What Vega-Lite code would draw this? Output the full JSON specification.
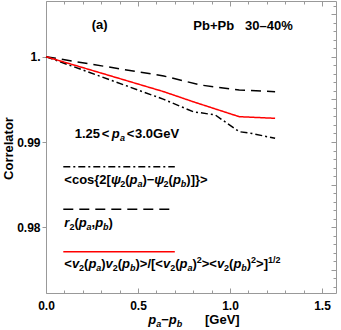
{
  "$schema": "https://vega.github.io/schema/vega-lite/v6.json",
  "width": 290,
  "height": 292,
  "autosize": "none",
  "padding": {"left": 46, "top": 1, "right": 5, "bottom": 37},
  "config": {
    "view": {"stroke": "#999999", "strokeWidth": 1},
    "font": "Liberation Sans",
    "axis": {
      "grid": false,
      "domain": false,
      "tickColor": "#999999",
      "labelFont": "Liberation Sans",
      "labelFontWeight": "bold",
      "labelFontSize": 12,
      "labelColor": "black",
      "titleFont": "Liberation Sans",
      "titleFontWeight": "bold",
      "titleFontSize": 13,
      "titleColor": "black"
    }
  },
  "datasets": {
    "lines": [
      {"s": "psi", "g": "psi-curve", "x": 0, "y": 1.0},
      {"s": "psi", "g": "psi-curve", "x": 0.3, "y": 0.99766},
      {"s": "psi", "g": "psi-curve", "x": 0.64, "y": 0.995},
      {"s": "psi", "g": "psi-curve", "x": 0.8, "y": 0.99355},
      {"s": "psi", "g": "psi-curve", "x": 0.92, "y": 0.99317},
      {"s": "psi", "g": "psi-curve", "x": 1.05, "y": 0.99121},
      {"s": "psi", "g": "psi-curve", "x": 1.12, "y": 0.9910},
      {"s": "psi", "g": "psi-curve", "x": 1.245, "y": 0.99043},
      {"s": "r2", "g": "r2-curve", "x": 0, "y": 1.0},
      {"s": "r2", "g": "r2-curve", "x": 0.42, "y": 0.99851},
      {"s": "r2", "g": "r2-curve", "x": 0.64, "y": 0.99774},
      {"s": "r2", "g": "r2-curve", "x": 0.84, "y": 0.99668},
      {"s": "r2", "g": "r2-curve", "x": 1.05, "y": 0.9961},
      {"s": "r2", "g": "r2-curve", "x": 1.245, "y": 0.9959},
      {"s": "v2", "g": "v2-curve", "x": 0, "y": 1.0},
      {"s": "v2", "g": "v2-curve", "x": 0.3, "y": 0.99808},
      {"s": "v2", "g": "v2-curve", "x": 0.64, "y": 0.9959},
      {"s": "v2", "g": "v2-curve", "x": 0.8, "y": 0.99472},
      {"s": "v2", "g": "v2-curve", "x": 1.05, "y": 0.99297},
      {"s": "v2", "g": "v2-curve", "x": 1.245, "y": 0.99278},
      {"s": "psi", "g": "psi-key", "x": 0.094, "y": 0.9871},
      {"s": "psi", "g": "psi-key", "x": 0.7, "y": 0.9871},
      {"s": "r2", "g": "r2-key", "x": 0.094, "y": 0.98211},
      {"s": "r2", "g": "r2-key", "x": 0.7, "y": 0.98211},
      {"s": "v2", "g": "v2-key", "x": 0.094, "y": 0.97714},
      {"s": "v2", "g": "v2-key", "x": 0.7, "y": 0.97714}
    ],
    "txt": [
      {"t": "(a)", "x": 0.2484, "y": 1.00325, "role": "main"},
      {"t": "Pb+Pb", "x": 0.8005, "y": 1.00313, "role": "main"},
      {"t": "30–40%", "x": 1.0815, "y": 1.00313, "role": "main"},

      {"t": "1.25", "x": 0.156, "y": 0.99043, "role": "main"},
      {"t": "<", "x": 0.3027, "y": 0.99043, "role": "main"},
      {"t": "p", "x": 0.3571, "y": 0.99043, "role": "italic"},
      {"t": "a", "x": 0.4022, "y": 0.99043, "role": "subItalic"},
      {"t": "<", "x": 0.4386, "y": 0.99043, "role": "main"},
      {"t": "3.0GeV", "x": 0.4837, "y": 0.99043, "role": "main"},

      {"t": "<cos{2[", "x": 0.0995, "y": 0.98508, "role": "main"},
      {"t": "ψ", "x": 0.3527, "y": 0.98508, "role": "italic"},
      {"t": "2", "x": 0.4033, "y": 0.98508, "role": "sub"},
      {"t": "(", "x": 0.4304, "y": 0.98508, "role": "main"},
      {"t": "p", "x": 0.4538, "y": 0.98508, "role": "italic"},
      {"t": "a", "x": 0.4967, "y": 0.98508, "role": "subItalic"},
      {"t": ")−", "x": 0.5239, "y": 0.98508, "role": "main"},
      {"t": "ψ", "x": 0.5886, "y": 0.98508, "role": "italic"},
      {"t": "2", "x": 0.6391, "y": 0.98508, "role": "sub"},
      {"t": "(", "x": 0.6663, "y": 0.98508, "role": "main"},
      {"t": "p", "x": 0.6897, "y": 0.98508, "role": "italic"},
      {"t": "b", "x": 0.7326, "y": 0.98508, "role": "subItalic"},
      {"t": ")]}>", "x": 0.7625, "y": 0.98508, "role": "main"},

      {"t": "r", "x": 0.0995, "y": 0.98004, "role": "italic"},
      {"t": "2", "x": 0.1272, "y": 0.98004, "role": "sub"},
      {"t": "(", "x": 0.1543, "y": 0.98004, "role": "main"},
      {"t": "p", "x": 0.1777, "y": 0.98004, "role": "italic"},
      {"t": "a", "x": 0.2207, "y": 0.98004, "role": "subItalic"},
      {"t": ",", "x": 0.2478, "y": 0.98004, "role": "main"},
      {"t": "p", "x": 0.2674, "y": 0.98004, "role": "italic"},
      {"t": "b", "x": 0.3103, "y": 0.98004, "role": "subItalic"},
      {"t": ")", "x": 0.3402, "y": 0.98004, "role": "main"},

      {"t": "<", "x": 0.0995, "y": 0.97523, "role": "main"},
      {"t": "v", "x": 0.1408, "y": 0.97523, "role": "italic"},
      {"t": "2", "x": 0.1799, "y": 0.97523, "role": "sub"},
      {"t": "(", "x": 0.2071, "y": 0.97523, "role": "main"},
      {"t": "p", "x": 0.2304, "y": 0.97523, "role": "italic"},
      {"t": "a", "x": 0.2734, "y": 0.97523, "role": "subItalic"},
      {"t": ")", "x": 0.3005, "y": 0.97523, "role": "main"},
      {"t": "v", "x": 0.3239, "y": 0.97523, "role": "italic"},
      {"t": "2", "x": 0.3630, "y": 0.97523, "role": "sub"},
      {"t": "(", "x": 0.3902, "y": 0.97523, "role": "main"},
      {"t": "p", "x": 0.4136, "y": 0.97523, "role": "italic"},
      {"t": "b", "x": 0.4565, "y": 0.97523, "role": "subItalic"},
      {"t": ")>/[<", "x": 0.4864, "y": 0.97523, "role": "main"},
      {"t": "v", "x": 0.6359, "y": 0.97523, "role": "italic"},
      {"t": "2", "x": 0.6750, "y": 0.97523, "role": "sub"},
      {"t": "(", "x": 0.7022, "y": 0.97523, "role": "main"},
      {"t": "p", "x": 0.7255, "y": 0.97523, "role": "italic"},
      {"t": "a", "x": 0.7685, "y": 0.97523, "role": "subItalic"},
      {"t": ")", "x": 0.7957, "y": 0.97523, "role": "main"},
      {"t": "2", "x": 0.8190, "y": 0.97523, "role": "sup"},
      {"t": "><", "x": 0.8462, "y": 0.97523, "role": "main"},
      {"t": "v", "x": 0.9288, "y": 0.97523, "role": "italic"},
      {"t": "2", "x": 0.9679, "y": 0.97523, "role": "sub"},
      {"t": "(", "x": 0.9951, "y": 0.97523, "role": "main"},
      {"t": "p", "x": 1.0185, "y": 0.97523, "role": "italic"},
      {"t": "b", "x": 1.0614, "y": 0.97523, "role": "subItalic"},
      {"t": ")", "x": 1.0913, "y": 0.97523, "role": "main"},
      {"t": "2", "x": 1.1147, "y": 0.97523, "role": "sup"},
      {"t": ">]", "x": 1.1418, "y": 0.97523, "role": "main"},
      {"t": "1/2", "x": 1.2065, "y": 0.97523, "role": "sup"},

      {"t": "p", "x": 0.5560, "y": 0.96866, "role": "italic"},
      {"t": "a", "x": 0.5989, "y": 0.96866, "role": "subItalic"},
      {"t": "−", "x": 0.6261, "y": 0.96866, "role": "main"},
      {"t": "p", "x": 0.6674, "y": 0.96866, "role": "italic"},
      {"t": "b", "x": 0.7103, "y": 0.96866, "role": "subItalic"},
      {"t": "[GeV]", "x": 0.8641, "y": 0.96866, "role": "main"}
    ]
  },
  "resolve": {"axis": {"x": "independent", "y": "independent"}},
  "layer": [
    {
      "data": {"name": "lines"},
      "mark": {"type": "line"},
      "encoding": {
        "x": {
          "field": "x", "type": "quantitative",
          "scale": {"domain": [0, 1.576], "nice": false, "zero": false},
          "axis": {"orient": "bottom", "values": [0, 0.5, 1, 1.5], "format": ".1f", "ticks": false, "labelPadding": 7, "labelFlush": false, "title": null}
        },
        "y": {
          "field": "y", "type": "quantitative",
          "scale": {"domain": [0.9723, 1.00653], "nice": false, "zero": false},
          "axis": {
            "orient": "left", "values": [0.98, 0.99, 1],
            "labelExpr": "datum.value == 1 ? '1.' : format(datum.value, '.2f')",
            "tickSize": 4, "labelPadding": 2,
            "title": "Correlator", "titleX": -34, "titleY": 147, "titleAngle": 270,
            "titleAlign": "center", "titleBaseline": "alphabetic"
          }
        },
        "detail": {"field": "g"},
        "color": {"field": "s", "type": "nominal", "scale": {"domain": ["psi", "r2", "v2"], "range": ["black", "black", "#ff0000"]}, "legend": null},
        "strokeDash": {"field": "s", "type": "nominal", "scale": {"domain": ["psi", "r2", "v2"], "range": [[7, 3, 2, 3], [10, 6], [1, 0]]}, "legend": null},
        "strokeWidth": {"field": "s", "type": "nominal", "scale": {"domain": ["psi", "r2", "v2"], "range": [1.5, 1.5, 2]}, "legend": null}
      }
    },
    {
      "data": {"name": "txt"},
      "transform": [{"filter": "datum.role == 'main'"}],
      "mark": {"type": "text", "align": "left", "baseline": "alphabetic", "fontSize": 13, "fontWeight": "bold", "font": "Liberation Sans", "color": "black"},
      "encoding": {
        "x": {
          "field": "x", "type": "quantitative",
          "scale": {"domain": [0, 1.576], "nice": false, "zero": false},
          "axis": {
            "orient": "bottom", "labels": false, "title": null,
            "values": [0, 0.1, 0.2, 0.3, 0.4, 0.5, 0.6, 0.7, 0.8, 0.9, 1, 1.1, 1.2, 1.3, 1.4, 1.5],
            "tickSize": {"condition": {"test": "abs(datum.value*2 - round(datum.value*2)) < 0.001", "value": -5}, "value": -3}
          }
        },
        "y": {
          "field": "y", "type": "quantitative",
          "scale": {"domain": [0.9723, 1.00653], "nice": false, "zero": false},
          "axis": {
            "orient": "right", "labels": false, "title": null,
            "values": [0.973, 0.974, 0.975, 0.976, 0.977, 0.978, 0.979, 0.98, 0.981, 0.982, 0.983, 0.984, 0.985, 0.986, 0.987, 0.988, 0.989, 0.99, 0.991, 0.992, 0.993, 0.994, 0.995, 0.996, 0.997, 0.998, 0.999, 1, 1.001, 1.002, 1.003, 1.004, 1.005, 1.006],
            "tickSize": {"condition": {"test": "abs(datum.value*200 - round(datum.value*200)) < 0.001", "value": -5}, "value": -3}
          }
        },
        "text": {"field": "t"}
      }
    },
    {
      "data": {"name": "txt"},
      "transform": [{"filter": "datum.role == 'italic'"}],
      "mark": {"type": "text", "align": "left", "baseline": "alphabetic", "fontSize": 13, "fontWeight": "bold", "fontStyle": "italic", "font": "Liberation Sans", "color": "black"},
      "encoding": {
        "x": {
          "field": "x", "type": "quantitative",
          "scale": {"domain": [0, 1.576], "nice": false, "zero": false},
          "axis": {
            "orient": "top", "labels": false, "title": null,
            "values": [0, 0.1, 0.2, 0.3, 0.4, 0.5, 0.6, 0.7, 0.8, 0.9, 1, 1.1, 1.2, 1.3, 1.4, 1.5],
            "tickSize": {"condition": {"test": "abs(datum.value*2 - round(datum.value*2)) < 0.001", "value": -5}, "value": -3}
          }
        },
        "y": {
          "field": "y", "type": "quantitative",
          "scale": {"domain": [0.9723, 1.00653], "nice": false, "zero": false},
          "axis": null
        },
        "text": {"field": "t"}
      }
    },
    {
      "data": {"name": "txt"},
      "transform": [{"filter": "datum.role == 'sub'"}],
      "mark": {"type": "text", "align": "left", "baseline": "alphabetic", "fontSize": 9, "dy": 3, "fontWeight": "bold", "font": "Liberation Sans", "color": "black"},
      "encoding": {
        "x": {"field": "x", "type": "quantitative", "scale": {"domain": [0, 1.576], "nice": false, "zero": false}, "axis": null},
        "y": {"field": "y", "type": "quantitative", "scale": {"domain": [0.9723, 1.00653], "nice": false, "zero": false}, "axis": null},
        "text": {"field": "t"}
      }
    },
    {
      "data": {"name": "txt"},
      "transform": [{"filter": "datum.role == 'subItalic'"}],
      "mark": {"type": "text", "align": "left", "baseline": "alphabetic", "fontSize": 9, "dy": 3, "fontWeight": "bold", "fontStyle": "italic", "font": "Liberation Sans", "color": "black"},
      "encoding": {
        "x": {"field": "x", "type": "quantitative", "scale": {"domain": [0, 1.576], "nice": false, "zero": false}, "axis": null},
        "y": {"field": "y", "type": "quantitative", "scale": {"domain": [0.9723, 1.00653], "nice": false, "zero": false}, "axis": null},
        "text": {"field": "t"}
      }
    },
    {
      "data": {"name": "txt"},
      "transform": [{"filter": "datum.role == 'sup'"}],
      "mark": {"type": "text", "align": "left", "baseline": "alphabetic", "fontSize": 9, "dy": -5, "fontWeight": "bold", "font": "Liberation Sans", "color": "black"},
      "encoding": {
        "x": {"field": "x", "type": "quantitative", "scale": {"domain": [0, 1.576], "nice": false, "zero": false}, "axis": null},
        "y": {"field": "y", "type": "quantitative", "scale": {"domain": [0.9723, 1.00653], "nice": false, "zero": false}, "axis": null},
        "text": {"field": "t"}
      }
    }
  ]
}
